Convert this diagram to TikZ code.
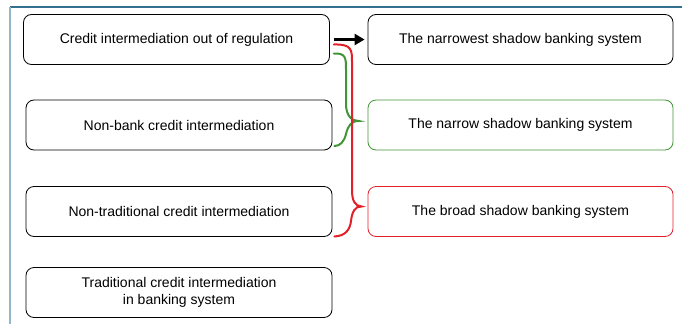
\documentclass[tikz,border=0pt]{standalone}
\usepackage{fontspec}
\setmainfont{Liberation Sans}
\usetikzlibrary{
arrows.meta,
calc,
positioning,
}
\definecolor{frametop}{RGB}{52,112,142}
\definecolor{frameleft}{RGB}{150,182,204}
\definecolor{narrowgreen}{RGB}{64,150,52}
\definecolor{broadred}{RGB}{226,32,42}

\begin{document}
\begin{tikzpicture}[x=1pt, y=-1pt,
	box/.style={draw, line width=0.8pt, rounded corners=8pt, minimum width=306pt, minimum height=50pt, inner sep=0pt, align=center, font=\fontsize{14}{17.5}\selectfont},
	brace/.style={line width=2pt, line cap=round}]
				\useasboundingbox (0,0) rectangle (682,324);
				% frame
				\draw[frametop, line width=1.2pt] (10,7) -- (682,7);
				\draw[frameleft, line width=1.6pt] (10,7) -- (10,324);
				% left column
				\node[box] (regout) at (176.5,39.5) {Credit intermediation out of regulation};
				\node[box] (nonbank) at (179,125) {Non-bank credit intermediation};
				\node[box] (nontrad) at (179,211.5) {Non-traditional credit intermediation};
				\node[box] (trad) at (179,292.5) {Traditional credit intermediation\\in banking system};
				% right column
				\node[box, minimum width=305pt] (narrowest) at (520.5,39.5) {The narrowest shadow banking system};
				\node[box, minimum width=305pt, draw=narrowgreen] (narrow) at (520.5,125) {The narrow shadow banking system};
				\node[box, minimum width=305pt, draw=broadred] (broad) at (520.5,211.5) {The broad shadow banking system};
				% arrow
				\draw[line width=2.4pt, -{Triangle[length=10pt, width=11pt]}, shorten <=4pt, shorten >=3pt] (regout.east) -- (narrowest.west);
				% braces
				\coordinate (gtop) at ($(regout.east)+(4,14)$);
				\coordinate (gbot) at ($(nonbank.east)+(2,21)$);
				\coordinate (gtip) at ($(narrow.west)+(-9,-4)$);
				\coordinate (rtop) at ($(regout.east)+(4,5)$);
				\coordinate (rbot) at ($(nontrad.east)+(2,25)$);
				\coordinate (rtip) at ($(broad.west)+(-6,-5)$);
				\draw[brace, narrowgreen] (gtop) .. controls (346,53) and (346,58) .. (346,70) -- (346,104)
					.. controls (346,116) and (352,121) .. (gtip)
					.. controls (351,121) and (348,126) .. (346,134)
					.. controls (344,142) and (340,146) .. (gbot);
				\draw[brace, broadred] (rtop) .. controls (352,44) and (352,50) .. (352,62) -- (352,190)
					.. controls (352,201) and (355,206) .. (rtip)
					.. controls (355,206) and (352,212) .. (351,221)
					.. controls (350,230) and (345,236) .. (rbot);
			\end{tikzpicture}
\end{document}
